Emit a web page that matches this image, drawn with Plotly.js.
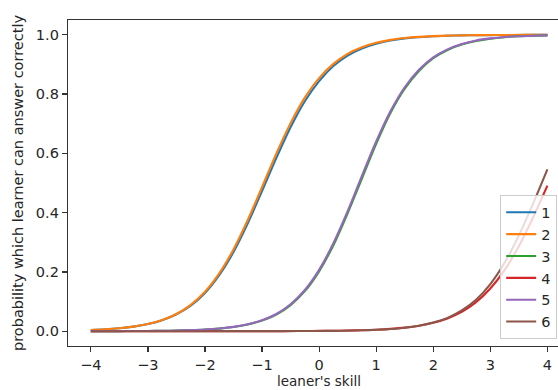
<!DOCTYPE html>
<html>
<head>
<meta charset="utf-8">
<script src="https://cdn.plot.ly/plotly-3.0.1.min.js"></script>
<style>html,body{margin:0;padding:0;background:#fff;}#chart{width:558px;height:390px;}</style>
</head>
<body>
<div id="chart"></div>
<script>
// learner's skill grid
const skill = [-4,-3.75,-3.5,-3.25,-3,-2.75,-2.5,-2.25,-2,-1.75,-1.5,-1.25,-1,-0.75,-0.5,-0.25,0,0.25,0.5,0.75,1,1.25,1.5,1.75,2,2.25,2.5,2.75,3,3.25,3.5,3.75,4];
const seriesNames = ["1","2","3","4","5","6"];
const seriesColors = ["#1f77b4","#ff7f0e","#2ca02c","#d62728","#9467bd","#8c564b"];

const item1 = [0.004,0.0063,0.0099,0.0154,0.024,0.037,0.057,0.086,0.129,0.189,0.267,0.364,0.473,0.584,0.688,0.776,0.844,0.895,0.930,0.954,0.970,0.981,0.988,0.992,0.995,0.9968,0.998,0.9987,0.9991,0.9994,0.9996,0.9998,0.9998];
const item2 = [0.004,0.0063,0.0099,0.0155,0.024,0.0377,0.058,0.0887,0.133,0.195,0.276,0.375,0.486,0.599,0.702,0.788,0.854,0.902,0.936,0.958,0.973,0.983,0.989,0.993,0.9955,0.9972,0.9982,0.9989,0.9993,0.9995,0.9997,0.9998,0.9999];
const item3 = [0.0001,0.0002,0.0003,0.0005,0.0008,0.0013,0.0020,0.0033,0.0053,0.0086,0.0140,0.0225,0.036,0.056,0.088,0.135,0.202,0.290,0.398,0.515,0.632,0.736,0.818,0.878,0.921,0.949,0.967,0.979,0.987,0.992,0.995,0.997,0.998];
const item4 = [0,0,0,0,0,0,0,0,0.00003,0.00005,0.00007,0.0001,0.00015,0.00025,0.0004,0.0006,0.0009,0.0014,0.0021,0.0033,0.0050,0.0078,0.0120,0.0185,0.0284,0.043,0.065,0.098,0.144,0.206,0.287,0.384,0.491];
const item5 = [0.0001,0.0002,0.0003,0.0005,0.0008,0.0013,0.0021,0.0035,0.0056,0.009,0.0145,0.0232,0.037,0.058,0.091,0.139,0.207,0.297,0.405,0.524,0.640,0.742,0.823,0.882,0.924,0.951,0.969,0.981,0.988,0.9926,0.9954,0.9971,0.9982];
const item6 = [0,0,0,0,0,0,0,0,0.00002,0.00003,0.00005,0.00007,0.0001,0.0002,0.0003,0.0005,0.0007,0.0012,0.0019,0.0029,0.0047,0.0074,0.0117,0.0184,0.029,0.045,0.070,0.106,0.159,0.231,0.323,0.431,0.546];

const xTickVals = [-4,-3,-2,-1,0,1,2,3,4];
const yTickVals = [0,0.2,0.4,0.6,0.8,1.0];
const xTitle = "leaner's skill";
const yTitle = "probability which learner can answer correctly";

const allSeries = [item1,item2,item3,item4,item5,item6];
const traces = allSeries.map((ys,i)=>({
  x: skill, y: ys, type:'scatter', mode:'lines', name: seriesNames[i],
  line:{color: seriesColors[i], width:2.1, shape:'spline', smoothing:0.8}
}));

const font = {family:'"DejaVu Sans", sans-serif', size:14.5, color:'#262626'};
const titleFont = {family:font.family, size:13.5, color:'#262626'};
const layout = {
  width:558, height:390,
  margin:{l:68, r:0, t:20, b:44, pad:0},
  paper_bgcolor:'#fff', plot_bgcolor:'#fff',
  font: font,
  showlegend:true,
  legend:{x:0.882, y:0.462, xanchor:'left', yanchor:'top', bgcolor:'rgba(255,255,255,0.8)', bordercolor:'#cccccc', borderwidth:1, font:{family:font.family,size:14.5,color:'#262626'}, tracegroupgap:0},
  xaxis:{range:[-4.4,4.186], tickvals:xTickVals, ticks:'outside', ticklen:5, tickwidth:1.2, tickcolor:'#333',
    showline:true, linecolor:'#333', linewidth:1.2, mirror:true, showgrid:false, zeroline:false,
    tickfont:font, automargin:false, ticklabelstandoff:0},
  yaxis:{range:[-0.05,1.05], tickvals:yTickVals, tickformat:'.1f', ticks:'outside', ticklen:5, tickwidth:1.2, tickcolor:'#333',
    showline:true, linecolor:'#333', linewidth:1.2, mirror:false, showgrid:false, zeroline:false,
    title:{text:yTitle, standoff:8, font:font}, tickfont:font, automargin:false},
  annotations:[{text:xTitle, xref:'x', x:0, yref:'paper', y:-0.1365, yanchor:'bottom', xanchor:'center', showarrow:false, borderpad:0, font:titleFont}]
};
Plotly.newPlot('chart', traces, layout, {displayModeBar:false, staticPlot:true});
</script>
</body>
</html>
